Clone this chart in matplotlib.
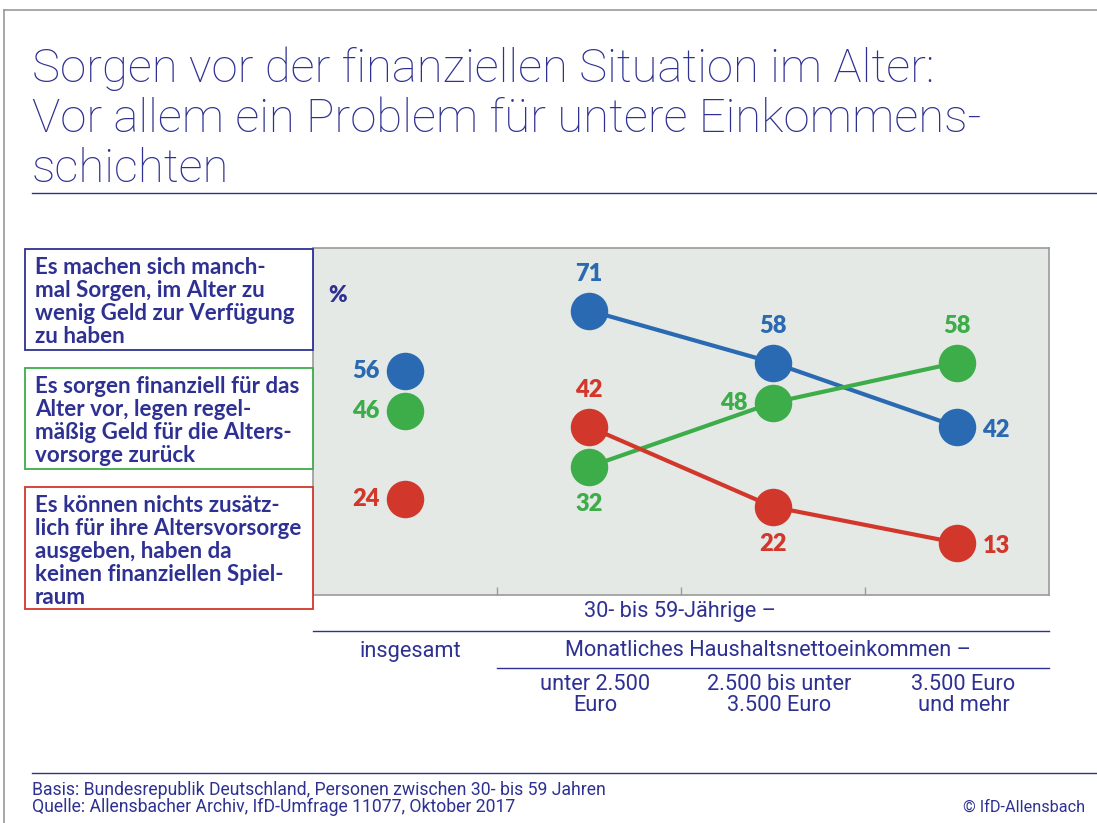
import matplotlib
matplotlib.use('Agg')
import matplotlib.pyplot as plt
from matplotlib.patches import Rectangle
from matplotlib.lines import Line2D
from matplotlib.transforms import blended_transform_factory

# ---------------- data ----------------
categories = ['insgesamt', 'unter 2.500\nEuro', '2.500 bis unter\n3.500 Euro', '3.500 Euro\nund mehr']
sorgen = [56, 71, 58, 42]
vorsorge = [46, 32, 48, 58]
nichts = [24, 42, 22, 13]
series_labels = [
    'Es machen sich manch-\nmal Sorgen, im Alter zu\nwenig Geld zur Verfügung\nzu haben',
    'Es sorgen finanziell für das\nAlter vor, legen regel-\nmäßig Geld für die Alters-\nvorsorge zurück',
    'Es können nichts zusätz-\nlich für ihre Altersvorsorge\nausgeben, haben da\nkeinen finanziellen Spiel-\nraum',
]
title_lines = ['Sorgen vor der finanziellen Situation im Alter:',
               'Vor allem ein Problem für untere Einkommens-',
               'schichten']
group_label = '30- bis 59-Jährige –'
income_label = 'Monatliches Haushaltsnettoeinkommen –'
footer1 = 'Basis: Bundesrepublik Deutschland, Personen zwischen 30- bis 59 Jahren'
footer2 = 'Quelle: Allensbacher Archiv, IfD-Umfrage 11077, Oktober 2017'
copyright_txt = '© IfD-Allensbach'

# ---------------- style ----------------
W, H = 1097, 823
NAVY = '#2E3192'
BLUE = '#2A6AB2'
GREEN = '#3DAD4A'
RED = '#D2372B'
PANEL = '#E5E9E6'
GRAY = '#9A9A9A'
BOLD = 'Lato'
LIGHT = 'Roboto'

fig = plt.figure(figsize=(W / 100, H / 100), dpi=100)
fig.patch.set_facecolor('white')
R = fig.canvas.get_renderer()


def fx(x):
    return x / W


def fy(y):
    return 1 - y / H


def fit(t, target_px):
    w = t.get_window_extent(R).width
    t.set_fontsize(t.get_fontsize() * target_px / w)
    return t


# outer frame lines
fig.add_artist(Line2D([fx(4), 1], [fy(10), fy(10)], color=GRAY, lw=1.2))
fig.add_artist(Line2D([fx(4), fx(4)], [fy(10), 0], color=GRAY, lw=1.2))

# title
tsize = None
for i, line in enumerate(title_lines):
    t = fig.text(fx(32), fy(82 + 50 * i), line, family=LIGHT, weight='light',
                 color=NAVY, fontsize=30, ha='left', va='baseline')
    if i == 0:
        fit(t, 903)
        tsize = t.get_fontsize()
    else:
        t.set_fontsize(tsize)
fig.add_artist(Line2D([fx(32), 1], [fy(193), fy(193)], color=NAVY, lw=1.0))

# panel axes
ax = fig.add_axes([fx(313), fy(595), fx(1049) - fx(313), (595 - 248) / H])
ax.set_facecolor(PANEL)
ax.set_xlim(-0.5, 3.5)
ax.set_ylim(0, 86.6)
for s in ax.spines.values():
    s.set_color(GRAY)
    s.set_linewidth(1.2)
ax.set_xticks([0.5, 1.5, 2.5])
ax.set_xticklabels([])
ax.set_yticks([])
ax.tick_params(axis='x', direction='in', length=6, color=GRAY, width=1)

xs = list(range(len(categories)))
series = [sorgen, vorsorge, nichts]
colors = [BLUE, GREEN, RED]
positions = [['left', 'above', 'above', 'right'],
             ['left', 'below', 'left', 'above'],
             ['left', 'above', 'below', 'right']]
PT = 0.72
offs = {'left': (-39 * PT, 0), 'right': (39 * PT, -3 * PT),
        'above': (0, 37 * PT), 'below': (0, -37 * PT)}

for vals, col, pos in zip(series, colors, positions):
    ax.plot(xs[1:], vals[1:], color=col, lw=3.0, zorder=2, solid_capstyle='butt')
    ax.plot(xs, vals, linestyle='none', marker='o', ms=27, mfc=col, mec='none', zorder=3)
    for x, v, p in zip(xs, vals, pos):
        ax.annotate(str(v), (x, v), xytext=offs[p], textcoords='offset points',
                    ha='center', va='center', color=col, fontsize=17,
                    family=BOLD, weight='heavy', zorder=4)

ax.text((338 - 313) / 736, 1 - (296 - 248) / 347, '%', transform=ax.transAxes,
        ha='center', va='center', color=NAVY, fontsize=16, family=BOLD, weight='heavy')

# legend boxes
boxes = [(249, 350, NAVY), (368, 469, GREEN), (487, 609, RED)]
texts = []
for (y0, y1, ec), lab in zip(boxes, series_labels):
    fig.add_artist(Rectangle((fx(25), fy(y1)), fx(313) - fx(25), (y1 - y0) / H,
                             transform=fig.transFigure, fill=True, fc='white',
                             ec=ec, lw=1.3))
    t = fig.text(fx(35), fy(y0 + 8), lab, family=BOLD, weight='bold', color=NAVY,
                 fontsize=14, ha='left', va='top', linespacing=1.12)
    texts.append(t)
probe = fig.text(0, 0, 'Es sorgen finanziell für das', family=BOLD, weight='bold', fontsize=14)
fit(probe, 266)
bsize = probe.get_fontsize()
probe.remove()
for t in texts:
    t.set_fontsize(bsize)

# lower category structure
bt = blended_transform_factory(ax.transData, fig.transFigure)
t = fig.text(680 / W, fy(611), group_label, family=LIGHT, color=NAVY,
             fontsize=15, ha='center', va='center')
fit(t, 193)
lsize = t.get_fontsize()
fig.add_artist(Line2D([-0.5, 3.5], [fy(631), fy(631)], transform=bt, color=NAVY, lw=1.0))
fig.text(xs[0] + 0.03, fy(651), categories[0], transform=bt, family=LIGHT,
         color=NAVY, fontsize=lsize, ha='center', va='center')
fig.text(1.97, fy(651), income_label, transform=bt, family=LIGHT,
         color=NAVY, fontsize=lsize, ha='center', va='center')
fig.add_artist(Line2D([0.5, 3.5], [fy(668), fy(668)], transform=bt, color=NAVY, lw=1.0))
for x, c in zip(xs[1:], categories[1:]):
    fig.text(x + 0.035, fy(674), c, transform=bt, family=LIGHT,
             color=NAVY, fontsize=lsize, ha='center', va='top', linespacing=1.0)

# footer
fig.add_artist(Line2D([fx(32), 1], [fy(773), fy(773)], color=NAVY, lw=1.0))
t = fig.text(fx(32), fy(795), footer1, family=LIGHT, color=NAVY,
             fontsize=11, ha='left', va='baseline')
fit(t, 572)
fsize = t.get_fontsize()
fig.text(fx(32), fy(812), footer2, family=LIGHT, color=NAVY,
         fontsize=fsize, ha='left', va='baseline')
fig.text(fx(1085), fy(812), copyright_txt, family=LIGHT, color=NAVY,
         fontsize=fsize * 0.92, ha='right', va='baseline')

fig.savefig('out.png', dpi=100, facecolor='white')
